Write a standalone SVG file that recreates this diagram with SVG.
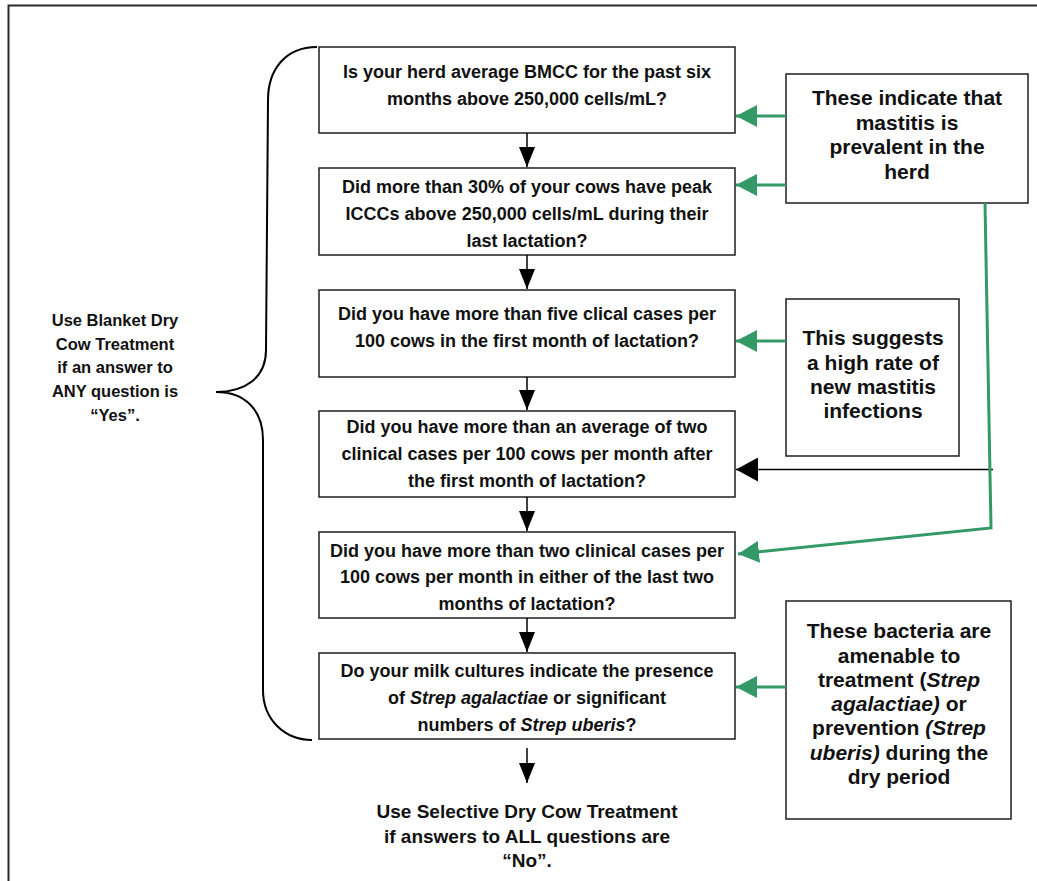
<svg xmlns="http://www.w3.org/2000/svg" width="1037" height="881" viewBox="0 0 1037 881">
<style>
.frame{fill:none;stroke:#2a2a2a;stroke-width:2}
.box{fill:#fff;stroke:#1e1e1e;stroke-width:1.5}
.q{font-family:"Liberation Sans",Arial,sans-serif;font-weight:bold;font-size:18px;fill:#111;text-anchor:middle}
.n{font-family:"Liberation Sans",Arial,sans-serif;font-weight:bold;font-size:21px;fill:#111;text-anchor:middle}
.s{font-family:"Liberation Sans",Arial,sans-serif;font-weight:bold;font-size:16.5px;fill:#111;text-anchor:middle}
.b{font-family:"Liberation Sans",Arial,sans-serif;font-weight:bold;font-size:19px;fill:#111;text-anchor:middle}
.it{font-style:italic}
.blk{stroke:#000;stroke-width:1.5;fill:none}
.grn{stroke:#339966;stroke-width:3;fill:none}
.brace{stroke:#000;stroke-width:2;fill:none}
</style>
<defs>
<marker id="ah" markerUnits="userSpaceOnUse" markerWidth="20" markerHeight="16" refX="20" refY="8" orient="auto"><path d="M0,0 L20,8 L0,16 z" fill="#000"/></marker>
<marker id="ahb" markerUnits="userSpaceOnUse" markerWidth="22" markerHeight="24" refX="22" refY="12" orient="auto"><path d="M0,0 L22,12 L0,24 z" fill="#000"/></marker>
<marker id="ag" markerUnits="userSpaceOnUse" markerWidth="21" markerHeight="22" refX="21" refY="11" orient="auto"><path d="M0,0 L21,11 L0,22 z" fill="#339966"/></marker>
</defs>
<rect width="1037" height="881" fill="#fff"/>
<path class="frame" d="M8.5,881 L8.5,5.5 L1037,5.5"/>

<g id="brace">
<path class="brace" d="M317,47 C285,47 268,70 268,100 L266,350 C266,378 245,392 216,392 C245,392 263,410 263,440 L263,690 C263,720 285,740 312,740"/>
<text class="s" x="115" y="326">Use Blanket Dry</text>
<text class="s" x="115" y="350">Cow Treatment</text>
<text class="s" x="115" y="373">if an answer to</text>
<text class="s" x="115" y="397">ANY question is</text>
<text class="s" x="115" y="421">“Yes”.</text>
</g>

<g id="q1">
<rect class="box" x="319" y="47" width="416" height="86"/>
<text class="q" x="527" y="78">Is your herd average BMCC for the past six</text>
<text class="q" x="527" y="105">months above 250,000 cells/mL?</text>
</g>
<g id="q2">
<rect class="box" x="319" y="168" width="416" height="87"/>
<text class="q" x="527" y="193">Did more than 30% of your cows have peak</text>
<text class="q" x="527" y="220">ICCCs above 250,000 cells/mL during their</text>
<text class="q" x="527" y="247">last lactation?</text>
</g>
<g id="q3">
<rect class="box" x="319" y="290" width="416" height="87"/>
<text class="q" x="527" y="320">Did you have more than five clical cases per</text>
<text class="q" x="527" y="347">100 cows in the first month of lactation?</text>
</g>
<g id="q4">
<rect class="box" x="319" y="411" width="416" height="86"/>
<text class="q" x="527" y="433">Did you have more than an average of two</text>
<text class="q" x="527" y="460">clinical cases per 100 cows per month after</text>
<text class="q" x="527" y="487">the first month of lactation?</text>
</g>
<g id="q5">
<rect class="box" x="319" y="532" width="416" height="86"/>
<text class="q" x="527" y="557">Did you have more than two clinical cases per</text>
<text class="q" x="527" y="583">100 cows per month in either of the last two</text>
<text class="q" x="527" y="610">months of lactation?</text>
</g>
<g id="q6">
<rect class="box" x="319" y="653" width="416" height="86"/>
<text class="q" x="527" y="677">Do your milk cultures indicate the presence</text>
<text class="q" x="527" y="704">of <tspan class="it">Strep agalactiae</tspan> or significant</text>
<text class="q" x="527" y="731">numbers of <tspan class="it">Strep uberis</tspan>?</text>
</g>

<g id="outcome">
<text class="b" x="527" y="818">Use Selective Dry Cow Treatment</text>
<text class="b" x="527" y="843">if answers to ALL questions are</text>
<text class="b" x="527" y="867">“No”.</text>
</g>

<g id="noteA">
<rect class="box" x="786" y="74" width="242" height="129"/>
<text class="n" x="907" y="105">These indicate that</text>
<text class="n" x="907" y="130">mastitis is</text>
<text class="n" x="907" y="154">prevalent in the</text>
<text class="n" x="907" y="179">herd</text>
</g>
<g id="noteB">
<rect class="box" x="786" y="299" width="173" height="157"/>
<text class="n" x="873" y="345">This suggests</text>
<text class="n" x="873" y="370">a high rate of</text>
<text class="n" x="873" y="394">new mastitis</text>
<text class="n" x="873" y="418">infections</text>
</g>
<g id="noteC">
<rect class="box" x="786" y="601" width="225" height="218"/>
<text class="n" x="899" y="638">These bacteria are</text>
<text class="n" x="899" y="663">amenable to</text>
<text class="n" x="899" y="687">treatment (<tspan class="it">Strep</tspan></text>
<text class="n" x="899" y="711"><tspan class="it">agalactiae)</tspan> or</text>
<text class="n" x="899" y="735">prevention <tspan class="it">(Strep</tspan></text>
<text class="n" x="899" y="760"><tspan class="it">uberis)</tspan> during the</text>
<text class="n" x="899" y="784">dry period</text>
</g>

<g id="connectors">
<line class="blk" x1="527" y1="133" x2="527" y2="167" marker-end="url(#ah)"/>
<line class="blk" x1="527" y1="255" x2="527" y2="289" marker-end="url(#ah)"/>
<line class="blk" x1="527" y1="377" x2="527" y2="410" marker-end="url(#ah)"/>
<line class="blk" x1="527" y1="497" x2="527" y2="531" marker-end="url(#ah)"/>
<line class="blk" x1="527" y1="618" x2="527" y2="652" marker-end="url(#ah)"/>
<line class="blk" x1="527" y1="748" x2="527" y2="783" marker-end="url(#ah)"/>
<line class="blk" x1="993" y1="469.5" x2="736" y2="469.5" stroke-width="2" marker-end="url(#ahb)"/>
<line class="grn" x1="786" y1="116" x2="736" y2="116" marker-end="url(#ag)"/>
<line class="grn" x1="786" y1="185" x2="736" y2="185" marker-end="url(#ag)"/>
<line class="grn" x1="786" y1="341" x2="736" y2="341" marker-end="url(#ag)"/>
<line class="grn" x1="786" y1="687" x2="736" y2="687" marker-end="url(#ag)"/>
<polyline class="grn" points="985,203 991,528 738,554" marker-end="url(#ag)"/>
</g>
</svg>
